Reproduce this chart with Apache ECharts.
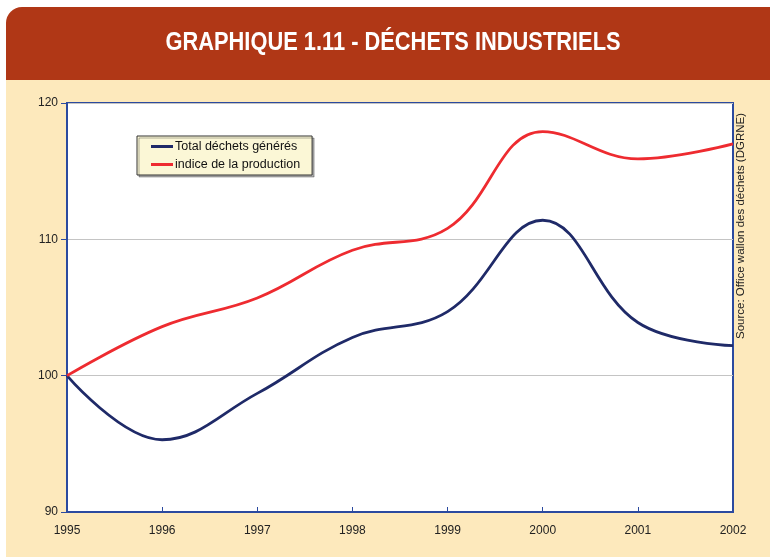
<!DOCTYPE html>
<html>
<head>
<meta charset="utf-8">
<script src="https://cdn.jsdelivr.net/npm/echarts@6/dist/echarts.min.js"></script>
<style>
  html, body { margin: 0; padding: 0; background: #fff; }
  #main { width: 770px; height: 557px; }
</style>
</head>
<body>
<div id="main"></div>
<script>
// données
var years = ['1995', '1996', '1997', '1998', '1999', '2000', '2001', '2002'];
var totalDechets = [100, 95.3, 98.7, 102.8, 104.7, 111.4, 103.9, 102.2];
var indiceProduction = [100, 103.6, 105.7, 109.2, 110.8, 117.9, 115.9, 117.0];
var yTicks = [90, 100, 110, 120];

var chart = echarts.init(document.getElementById('main'));

var option = {
    backgroundColor: '#ffffff',
    animation: false,
    graphic: [
        // fond jaune
        { type: 'rect', shape: { x: 6, y: 60, width: 770, height: 500 }, style: { fill: '#FDE9BC' }, z: -10 },
        // bandeau du titre
        { type: 'rect', shape: { x: 6, y: 7, width: 780, height: 73, r: [16, 0, 0, 0] }, style: { fill: '#B03716' }, z: -9 },
        {
            type: 'text', x: 393, y: 43, scaleX: 0.84,
            style: {
                text: 'GRAPHIQUE 1.11 - DÉCHETS INDUSTRIELS',
                fill: '#ffffff',
                font: 'bold 26px "Liberation Sans", Arial, sans-serif',
                align: 'center', verticalAlign: 'middle'
            }
        },
        {
            type: 'text', x: 735, y: 339, rotation: Math.PI / 2,
            style: {
                text: 'Source: Office wallon des déchets (DGRNE)',
                fill: '#222',
                font: '11.5px "Liberation Sans", Arial, sans-serif',
                align: 'left', verticalAlign: 'top'
            }
        }
    ],
    legend: {
        orient: 'vertical',
        left: 137,
        top: 136,
        data: ['Total déchets générés', 'indice de la production'],
        backgroundColor: '#FBF7D6',
        borderColor: '#333',
        borderWidth: 1,
        padding: [4, 12, 4, 14],
        itemGap: 5,
        itemWidth: 22,
        itemHeight: 3,
        icon: 'rect',
        shadowColor: 'rgba(0,0,0,0.3)',
        shadowOffsetX: 2,
        shadowOffsetY: 2,
        textStyle: { fontFamily: '"Liberation Sans", Arial, sans-serif', fontSize: 12.5, color: '#111', padding: [0, 0, 0, -3] }
    },
    grid: {
        left: 67,
        right: 37,
        top: 103,
        bottom: 45,
        show: true,
        backgroundColor: '#ffffff',
        borderColor: '#2B4A9F',
        borderWidth: 2
    },
    xAxis: {
        type: 'category',
        data: years,
        boundaryGap: false,
        axisLine: { lineStyle: { color: '#2B4A9F', width: 2 } },
        axisTick: { inside: true, length: 5, lineStyle: { color: '#2B4A9F', width: 1 } },
        axisLabel: { color: '#222', fontSize: 12, margin: 13, fontFamily: '"Liberation Sans", Arial, sans-serif' },
        splitLine: { show: false }
    },
    yAxis: {
        type: 'value',
        min: yTicks[0],
        max: yTicks[yTicks.length - 1],
        interval: 10,
        axisLine: { show: true, lineStyle: { color: '#2B4A9F', width: 2 } },
        axisTick: { show: true, length: 6, lineStyle: { color: '#2B4A9F', width: 1 } },
        axisLabel: { color: '#222', fontSize: 12, margin: 9, fontFamily: '"Liberation Sans", Arial, sans-serif' },
        splitLine: { lineStyle: { color: '#C4C4C4', width: 1 } }
    },
    series: [
        {
            name: 'Total déchets générés',
            type: 'line',
            data: totalDechets,
            smooth: 0.4,
            symbol: 'none',
            color: '#1F2A68',
            lineStyle: { width: 2.8, color: '#1F2A68' }
        },
        {
            name: 'indice de la production',
            type: 'line',
            data: indiceProduction,
            smooth: 0.4,
            symbol: 'none',
            color: '#EE2B30',
            lineStyle: { width: 2.8, color: '#EE2B30' }
        }
    ]
};

chart.setOption(option);
</script>
</body>
</html>
